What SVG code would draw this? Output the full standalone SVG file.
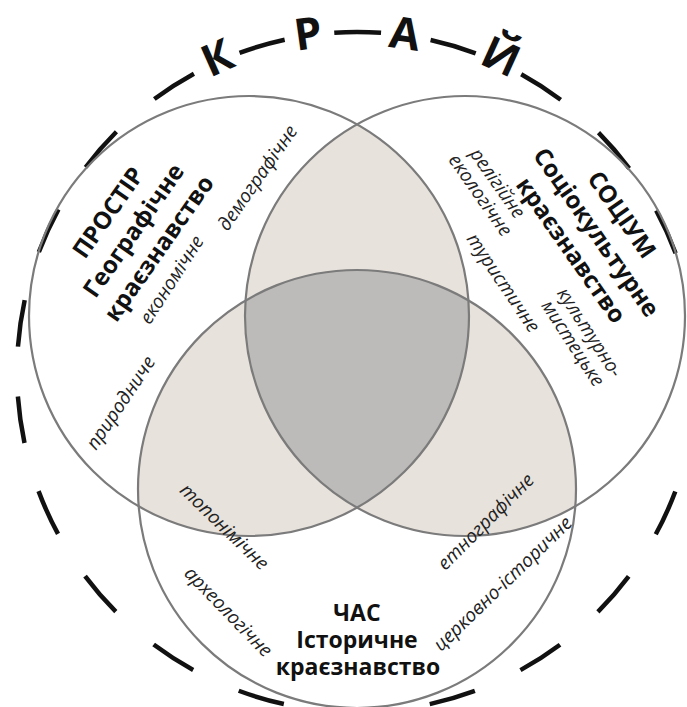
<svg xmlns="http://www.w3.org/2000/svg" width="687" height="707" viewBox="0 0 687 707">
<defs>
<style>
.c{fill:none;stroke:#7b7b7b;stroke-width:2.2}
.b{font-family:"Open Sans","Noto Sans","DejaVu Sans",sans-serif;font-weight:700;font-size:24px;fill:#111;text-anchor:middle}
.t{font-family:"Open Sans","Noto Sans","DejaVu Sans",sans-serif;font-weight:700;font-size:23px;fill:#111;text-anchor:middle}
.i{font-family:"Open Sans","Noto Sans","DejaVu Sans",sans-serif;font-style:italic;font-size:19px;fill:#222;text-anchor:middle}
.k{font-family:"Open Sans","Noto Sans","DejaVu Sans",sans-serif;font-weight:700;font-size:44px;fill:#111;text-anchor:middle}
.pair{fill:#e8e2dc}
.tri{fill:#bdbbb9}
</style>
<clipPath id="cl"><circle cx="249" cy="316" r="220"/></clipPath>
<clipPath id="cr"><circle cx="465" cy="316" r="220"/></clipPath>
</defs>
<rect width="687" height="707" fill="#fff"/>
<g id="overlaps">
<circle class="pair" cx="465" cy="316" r="220" clip-path="url(#cl)"/>
<circle class="pair" cx="357" cy="489" r="219" clip-path="url(#cl)"/>
<circle class="pair" cx="357" cy="489" r="219" clip-path="url(#cr)"/>
<g clip-path="url(#cl)"><circle class="tri" cx="357" cy="489" r="219" clip-path="url(#cr)"/></g>
</g>
<g id="krai">
<circle cx="357" cy="372" r="340" fill="none" stroke="#111" stroke-width="4.5" stroke-dasharray="47 50.104" stroke-dashoffset="72.05"/>
<text class="k" transform="translate(217,57) rotate(-24)" y="16">К</text>
<text class="k" transform="translate(308,33) rotate(-8)" y="16">Р</text>
<text class="k" transform="translate(405,33) rotate(8)" y="16">А</text>
<text class="k" transform="translate(501,56) rotate(24.5)" y="16">Й</text>
</g>
<g id="prostir">
<circle class="c" cx="249" cy="316" r="220"/>
<g transform="translate(133,230) rotate(-55)">
<text class="b" y="-22">ПРОСТІР</text>
<text class="b" y="9">Географічне</text>
<text class="b" y="40">краєзнавство</text>
</g>
<text class="i" transform="translate(172,280) rotate(-57)" y="6">економічне</text>
<text class="i" transform="translate(258,178) rotate(-55)" y="6">демографічне</text>
<text class="i" transform="translate(121,403) rotate(-56)" y="6">природниче</text>
</g>
<g id="sotsium">
<circle class="c" cx="465" cy="316" r="220"/>
<g transform="translate(597,232) rotate(55)">
<text class="b" y="-22">СОЦІУМ</text>
<text class="b" y="9">Соціокультурне</text>
<text class="b" y="40">краєзнавство</text>
</g>
<g transform="translate(489,189) rotate(55)">
<text class="i" y="-4">релігійне</text>
<text class="i" y="17">екологічне</text>
</g>
<text class="i" transform="translate(503,283) rotate(56)" y="6">туристичне</text>
<g transform="translate(581,338) rotate(57)">
<text class="i" y="-4">культурно-</text>
<text class="i" y="16">мистецьке</text>
</g>
</g>
<g id="chas">
<circle class="c" cx="357" cy="489" r="219"/>
<text class="t" x="357" y="621">ЧАС</text>
<text class="t" x="357" y="648">Історичне</text>
<text class="t" x="358" y="675">краєзнавство</text>
<text class="i" transform="translate(224,527) rotate(44)" y="6">топонімічне</text>
<text class="i" transform="translate(228,612) rotate(46)" y="6">археологічне</text>
<text class="i" transform="translate(486,522) rotate(-45)" y="6">етнографічне</text>
<text class="i" transform="translate(503,584) rotate(-44)" y="6">церковно-історичне</text>
</g>
</svg>
